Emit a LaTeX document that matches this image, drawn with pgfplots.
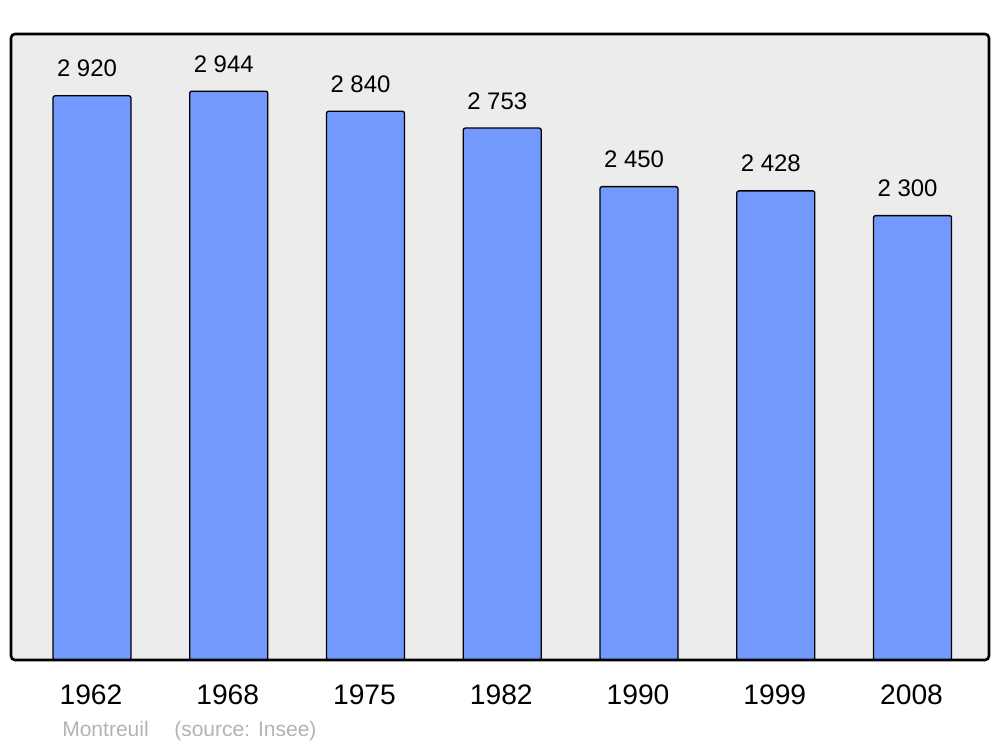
\documentclass[border=0pt]{standalone}
\usepackage{fontspec}
\setmainfont{Liberation Sans}
\usepackage{pgfplots}
\pgfplotsset{compat=1.18}
\newdimen\px \px=0.254mm
\definecolor{panel}{RGB}{236,236,236}
\definecolor{barblue}{RGB}{115,153,255}
\definecolor{srcgray}{RGB}{179,179,179}
\begin{document}
\begin{tikzpicture}[x=0.254mm,y=0.254mm]
\useasboundingbox (0,0) rectangle (1000,747);
\begin{axis}[
  at={(11\px,87\px)}, anchor=south west,
  scale only axis,
  width=978\px, height=626\px,
  xmin=-0.592, xmax=6.559,
  ymin=0, ymax=3240,
  ybar, bar width=0.57,
  axis line style={draw=none},
  axis background/.style={fill=panel, rounded corners=4\px},
  xtick={0,...,6},
  xticklabels={1962,1968,1975,1982,1990,1999,2008},
  major tick length=0pt,
  ytick=\empty,
  xticklabel style={anchor=center, yshift=-35\px, xshift=-1\px, font=\fontsize{20.4}{24}\selectfont},
  point meta=explicit symbolic,
  nodes near coords,
  every node near coord/.append style={anchor=base, yshift=19\px, xshift=-5\px,
    font=\fontsize{17.3}{20}\selectfont, inner sep=0pt},
  clip=false,
]
\addplot[draw=black, line width=1.3\px, fill=barblue, rounded corners=2\px] coordinates {
  (0,2920) [2 920]
  (1,2944) [2 944]
  (2,2840) [2 840]
  (3,2753) [2 753]
  (4,2450) [2 450]
  (5,2428) [2 428]
  (6,2300) [2 300]
};
\draw[line width=2.6\px, rounded corners=4\px] (rel axis cs:0,0) rectangle (rel axis cs:1,1);
\end{axis}
\node[anchor=base west, inner sep=0pt, text=srcgray, font=\fontsize{15.2}{18}\selectfont] at (62,10) {Montreuil};
\node[anchor=base west, inner sep=0pt, text=srcgray, font=\fontsize{15.2}{18}\selectfont] at (174,10) {(source: Insee)};
\end{tikzpicture}
\end{document}
